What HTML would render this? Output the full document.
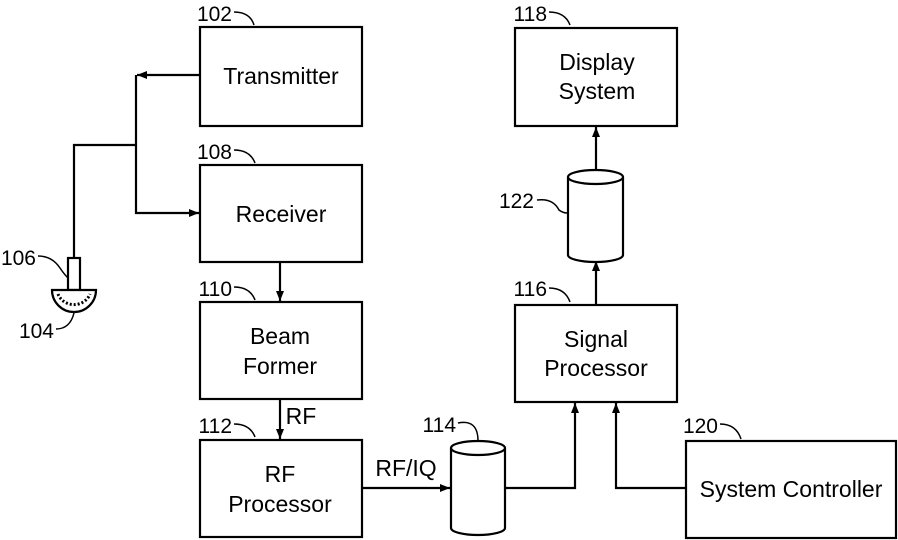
<!DOCTYPE html>
<html><head><style>body{margin:0;background:#fff}svg{display:block}</style></head><body>
<svg width="898" height="540" viewBox="0 0 898 540" xmlns="http://www.w3.org/2000/svg" font-family="Liberation Sans, sans-serif">
<defs><marker id="a" markerWidth="10" markerHeight="8" refX="10" refY="4" orient="auto" markerUnits="userSpaceOnUse"><path d="M0,0L10,4L0,8z" fill="#000"/></marker></defs>
<g fill="#fff" stroke="#000" stroke-width="2.2">
<rect x="200" y="27" width="162" height="99"/>
<rect x="200" y="165" width="162" height="97"/>
<rect x="200" y="302" width="162" height="97"/>
<rect x="200" y="440" width="162" height="97"/>
<rect x="515" y="28" width="162" height="98"/>
<rect x="515" y="305" width="162" height="97"/>
<rect x="686" y="441" width="210" height="97"/>
<path d="M568,177 V255 A27.5,7 0 0 0 623,255 V177"/>
<ellipse cx="595.5" cy="177" rx="27.5" ry="7"/>
<path d="M451,448 V528 A27,7 0 0 0 505,528 V448"/>
<ellipse cx="478" cy="448" rx="27" ry="7"/>
</g>
<g fill="none" stroke="#000" stroke-width="2.2">
<path d="M200,75 H137" marker-end="url(#a)"/>
<path d="M136,75 V213 H199" marker-end="url(#a)"/>
<path d="M136,145 H74 V258"/>
<path d="M280,262 V301" marker-end="url(#a)"/>
<path d="M280,399 V439" marker-end="url(#a)"/>
<path d="M362,488 H450" marker-end="url(#a)"/>
<path d="M505,488 H575 V403" marker-end="url(#a)"/>
<path d="M686,488 H616 V403" marker-end="url(#a)"/>
<path d="M596,305 V261" marker-end="url(#a)"/>
<path d="M596,170 V127" marker-end="url(#a)"/>
<rect x="68" y="258" width="12" height="32" fill="#fff"/>
<path d="M52,290 H96 A22,22 0 0 1 52,290 Z" fill="#fff"/>
<path d="M58,294 A17,16 0 0 0 90,294" stroke-dasharray="2,2" stroke-width="3"/>
<path d="M234,12 q16,0 20,13 M234,150 q16,0 21,13 M234,287 q16,0 21,13 M234,424 q16,0 21,13 M549,12 q16,0 21,13 M549,288 q16,0 21,14 M537,200 q16,-2 22,10 q4,3 8,3 M458,423 q20,-4 20,18 M720,424 q16,0 21,15 M38,256 q14,0 22,12 q4,6 8,10 M56,329 q14,0 18,-16" stroke-width="1.5"/>
</g>
<g font-size="23" text-anchor="middle" fill="#000">
<text x="281" y="84">Transmitter</text>
<text x="281" y="222">Receiver</text>
<text x="280" y="344">Beam</text><text x="280" y="374">Former</text>
<text x="280" y="482">RF</text><text x="280" y="512">Processor</text>
<text x="597" y="70">Display</text><text x="597" y="99">System</text>
<text x="596" y="347">Signal</text><text x="596" y="376">Processor</text>
<text x="791" y="497">System Controller</text>
<text x="406" y="476">RF/IQ</text>
<text x="301" y="424">RF</text>
</g>
<g font-size="21" fill="#000" text-anchor="end">
<text x="232" y="21">102</text><text x="232" y="159">108</text><text x="232" y="296">110</text>
<text x="232" y="433">112</text><text x="547" y="21">118</text><text x="547" y="296">116</text>
<text x="534" y="208">122</text><text x="456" y="432">114</text><text x="718" y="433">120</text>
<text x="36" y="265">106</text><text x="54" y="338">104</text>
</g>
</svg>
</body></html>
